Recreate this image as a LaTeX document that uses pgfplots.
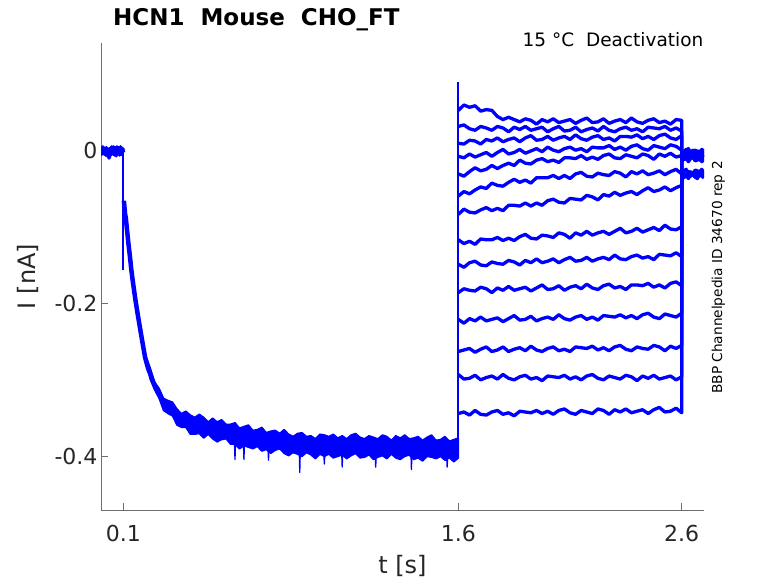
\documentclass[border=0pt]{standalone}
\usepackage{fontspec}
\setmainfont{DejaVu Sans}
\usepackage{pgfplots}
\usepackage{pgfplotstable}
\pgfplotsset{compat=1.18}
\definecolor{axgray}{RGB}{110,110,110}
\definecolor{txt}{RGB}{38,38,38}

\pgfplotstableread{
t T1 T2 T3 T4 T5 T6 T7 T8 T9 T10 T11 T12 T13 T14
1.600 0.052 0.031 0.009 -0.008 -0.031 -0.060 -0.084 -0.117 -0.149 -0.186 -0.221 -0.263 -0.293 -0.344
1.625 0.059 0.033 0.008 -0.010 -0.034 -0.054 -0.077 -0.122 -0.153 -0.181 -0.226 -0.261 -0.299 -0.342
1.650 0.056 0.028 0.013 -0.005 -0.028 -0.057 -0.081 -0.119 -0.147 -0.183 -0.220 -0.259 -0.298 -0.346
1.675 0.058 0.026 0.012 -0.009 -0.023 -0.052 -0.082 -0.123 -0.145 -0.184 -0.223 -0.264 -0.294 -0.340
1.700 0.051 0.031 0.008 -0.006 -0.027 -0.048 -0.078 -0.116 -0.150 -0.179 -0.218 -0.260 -0.300 -0.345
1.725 0.053 0.029 0.014 -0.003 -0.025 -0.050 -0.075 -0.117 -0.151 -0.181 -0.223 -0.257 -0.297 -0.346
1.750 0.052 0.026 0.012 -0.008 -0.020 -0.043 -0.079 -0.117 -0.146 -0.186 -0.221 -0.263 -0.295 -0.342
1.775 0.044 0.031 0.016 -0.003 -0.024 -0.046 -0.076 -0.114 -0.148 -0.180 -0.219 -0.261 -0.299 -0.340
1.800 0.040 0.029 0.011 0.001 -0.020 -0.047 -0.079 -0.118 -0.149 -0.183 -0.224 -0.257 -0.293 -0.345
1.825 0.043 0.024 0.014 -0.005 -0.017 -0.042 -0.072 -0.115 -0.144 -0.178 -0.220 -0.263 -0.298 -0.343
1.850 0.040 0.030 0.016 -0.003 -0.020 -0.038 -0.072 -0.118 -0.146 -0.183 -0.216 -0.260 -0.300 -0.347
1.875 0.037 0.027 0.011 0.001 -0.013 -0.042 -0.073 -0.113 -0.150 -0.181 -0.222 -0.258 -0.296 -0.341
1.900 0.041 0.031 0.016 -0.004 -0.017 -0.039 -0.069 -0.110 -0.144 -0.179 -0.221 -0.262 -0.294 -0.342
1.925 0.039 0.026 0.019 -0.001 -0.018 -0.043 -0.073 -0.115 -0.147 -0.184 -0.217 -0.256 -0.299 -0.343
1.950 0.034 0.028 0.013 0.002 -0.013 -0.036 -0.069 -0.116 -0.142 -0.180 -0.223 -0.261 -0.297 -0.340
1.975 0.040 0.030 0.014 -0.002 -0.011 -0.036 -0.072 -0.111 -0.147 -0.176 -0.220 -0.263 -0.301 -0.344
2.000 0.037 0.024 0.018 0.004 -0.015 -0.036 -0.066 -0.112 -0.145 -0.182 -0.218 -0.259 -0.295 -0.341
2.025 0.041 0.028 0.013 0.000 -0.013 -0.033 -0.064 -0.114 -0.142 -0.181 -0.221 -0.257 -0.296 -0.345
2.050 0.036 0.031 0.016 -0.002 -0.016 -0.037 -0.068 -0.108 -0.147 -0.177 -0.215 -0.262 -0.297 -0.340
2.075 0.038 0.025 0.018 0.002 -0.010 -0.033 -0.069 -0.110 -0.143 -0.183 -0.220 -0.260 -0.294 -0.338
2.100 0.040 0.026 0.014 0.004 -0.010 -0.037 -0.063 -0.115 -0.140 -0.179 -0.222 -0.263 -0.299 -0.343
2.125 0.035 0.030 0.020 0.000 -0.011 -0.031 -0.064 -0.108 -0.145 -0.177 -0.218 -0.257 -0.296 -0.345
2.150 0.039 0.024 0.015 0.002 -0.007 -0.029 -0.065 -0.111 -0.144 -0.181 -0.216 -0.258 -0.300 -0.340
2.175 0.042 0.027 0.013 -0.002 -0.012 -0.034 -0.059 -0.106 -0.140 -0.175 -0.221 -0.259 -0.295 -0.342
2.200 0.036 0.029 0.017 0.004 -0.009 -0.035 -0.061 -0.111 -0.145 -0.180 -0.218 -0.256 -0.293 -0.344
2.225 0.037 0.025 0.019 0.003 -0.012 -0.030 -0.065 -0.108 -0.142 -0.182 -0.222 -0.261 -0.298 -0.338
2.250 0.041 0.031 0.014 0.003 -0.007 -0.032 -0.058 -0.106 -0.140 -0.177 -0.216 -0.258 -0.300 -0.340
2.275 0.035 0.026 0.016 0.006 -0.005 -0.033 -0.060 -0.110 -0.143 -0.175 -0.217 -0.262 -0.295 -0.345
2.300 0.038 0.024 0.012 0.001 -0.010 -0.028 -0.055 -0.106 -0.137 -0.180 -0.218 -0.257 -0.297 -0.339
2.325 0.040 0.028 0.018 0.004 -0.011 -0.030 -0.059 -0.102 -0.142 -0.178 -0.215 -0.255 -0.299 -0.342
2.350 0.036 0.030 0.018 0.000 -0.006 -0.035 -0.056 -0.108 -0.143 -0.182 -0.219 -0.260 -0.294 -0.338
2.375 0.042 0.026 0.017 0.005 -0.008 -0.028 -0.054 -0.106 -0.139 -0.176 -0.216 -0.262 -0.296 -0.343
2.400 0.037 0.028 0.020 0.007 -0.010 -0.031 -0.058 -0.102 -0.137 -0.176 -0.220 -0.257 -0.301 -0.341
2.425 0.035 0.024 0.015 0.002 -0.005 -0.027 -0.053 -0.107 -0.141 -0.177 -0.215 -0.259 -0.295 -0.339
2.450 0.039 0.030 0.018 0.000 -0.007 -0.032 -0.049 -0.104 -0.139 -0.174 -0.213 -0.260 -0.298 -0.344
2.475 0.041 0.029 0.014 0.006 -0.012 -0.030 -0.054 -0.101 -0.143 -0.179 -0.218 -0.255 -0.294 -0.339
2.500 0.036 0.028 0.019 0.004 -0.005 -0.027 -0.052 -0.105 -0.136 -0.176 -0.220 -0.257 -0.299 -0.336
2.525 0.038 0.031 0.021 0.002 -0.008 -0.032 -0.048 -0.098 -0.137 -0.180 -0.214 -0.262 -0.297 -0.342
2.550 0.034 0.026 0.016 0.007 -0.004 -0.028 -0.053 -0.103 -0.138 -0.174 -0.216 -0.256 -0.295 -0.341
2.575 0.040 0.029 0.014 0.005 -0.009 -0.025 -0.049 -0.104 -0.134 -0.172 -0.218 -0.259 -0.300 -0.337
2.600 0.039 0.025 0.019 0.000 -0.007 -0.031 -0.046 -0.100 -0.139 -0.177 -0.213 -0.255 -0.296 -0.343
2.6005 -0.001 0.000 -0.004 -0.005 -0.008 -0.014 -0.006 -0.007 -0.010 -0.011 -0.031 -0.032 -0.030 -0.031
2.610 -0.005 -0.005 -0.006 -0.007 -0.011 -0.012 -0.002 -0.006 -0.007 -0.005 -0.027 -0.030 -0.031 -0.036
2.620 0.000 -0.007 -0.008 -0.012 -0.007 -0.010 0.001 -0.002 -0.005 -0.010 -0.025 -0.034 -0.032 -0.033
2.630 0.002 -0.002 -0.003 -0.006 -0.012 -0.015 -0.005 -0.008 -0.009 -0.012 -0.030 -0.028 -0.029 -0.037
2.640 -0.003 -0.004 -0.005 -0.009 -0.010 -0.011 -0.004 -0.005 -0.003 -0.008 -0.028 -0.029 -0.034 -0.032
2.650 -0.005 -0.006 -0.010 -0.005 -0.008 -0.008 0.000 -0.003 -0.008 -0.006 -0.032 -0.030 -0.031 -0.030
2.660 0.000 -0.001 -0.004 -0.010 -0.013 -0.014 -0.006 -0.007 -0.010 -0.011 -0.026 -0.027 -0.035 -0.035
2.670 -0.002 -0.003 -0.007 -0.008 -0.009 -0.013 -0.003 -0.001 -0.006 -0.009 -0.027 -0.032 -0.030 -0.037
2.680 -0.004 -0.008 -0.003 -0.006 -0.006 -0.009 -0.001 -0.006 -0.004 -0.013 -0.028 -0.029 -0.028 -0.032
2.690 0.001 -0.002 -0.008 -0.011 -0.012 -0.015 -0.005 -0.008 -0.009 -0.007 -0.025 -0.033 -0.033 -0.034
2.700 -0.001 -0.005 -0.006 -0.007 -0.011 -0.012 0.001 -0.004 -0.007 -0.008 -0.030 -0.028 -0.035 -0.036
}\traces

\begin{document}
\begin{tikzpicture}
\path[use as bounding box] (0,0) rectangle (778bp,583bp);
\begin{axis}[
  at={(101bp,73bp)}, anchor=south west,
  scale only axis, width=603bp, height=467bp,
  xmin=0, xmax=2.7, ymin=-0.47, ymax=0.14,
  axis lines=left,
  axis line style={-, draw=axgray, line width=0.9bp},
  tick align=inside, major tick length=7bp,
  tick style={draw=axgray, line width=0.9bp},
  xtick={0.1,1.6,2.6}, xticklabels={0.1,1.6,2.6},
  ytick={-0.4,-0.2,0}, yticklabels={-0.4,-0.2,{0\hspace{23bp}}},
  ticklabel style={font=\fontsize{22bp}{26bp}\selectfont, text=txt},
  xticklabel style={yshift=-12bp},
  xlabel={t [s]}, ylabel={I [nA]},
  label style={font=\fontsize{24bp}{28bp}\selectfont, text=txt},
  xlabel style={at={(axis description cs:0.5,-0.137)}, anchor=base},
  ylabel style={at={(axis description cs:-0.121,0.5)}, anchor=center},
  every axis plot/.append style={no markers, line join=round},
]
% holding segment before the step
\addplot[blue, line width=4bp] coordinates {(0.000,0.003) (0.004,-0.005) (0.008,0.004) (0.012,-0.003) (0.016,0.002) (0.020,-0.006) (0.024,0.003) (0.028,-0.007) (0.032,0.001) (0.036,-0.010) (0.040,0.002) (0.044,-0.006) (0.048,0.004) (0.052,-0.004) (0.056,0.004) (0.060,-0.006) (0.064,0.003) (0.068,-0.007) (0.072,0.004) (0.076,-0.003) (0.080,0.003) (0.084,-0.006) (0.088,0.004) (0.092,-0.005) (0.096,0.002) (0.100,-0.003)};
% capacitive spike at 0.1 s
\addplot[blue, line width=1.8bp] coordinates {(0.1,-0.002) (0.1,-0.157)};
% activation decay (core)
\addplot[blue, line width=4.5bp] coordinates {(0.1025,-0.066) (0.105,-0.074) (0.108,-0.084) (0.111,-0.088) (0.115,-0.100) (0.118,-0.108) (0.122,-0.120) (0.126,-0.130) (0.130,-0.140) (0.135,-0.154) (0.140,-0.166) (0.148,-0.183) (0.155,-0.197) (0.162,-0.210) (0.171,-0.226) (0.178,-0.238) (0.185,-0.250) (0.191,-0.260) (0.197,-0.270) (0.205,-0.279) (0.212,-0.286) (0.219,-0.291) (0.230,-0.300) (0.240,-0.307) (0.250,-0.313) (0.260,-0.319) (0.280,-0.329) (0.300,-0.337) (0.330,-0.345) (0.360,-0.351) (0.400,-0.357) (0.450,-0.361)};
% noise band of the overlapping sweeps
\addplot[blue, fill=blue, line width=1.5bp] coordinates {
(0.20,-0.268) (0.22,-0.284) (0.24,-0.303) (0.26,-0.311) (0.28,-0.324) (0.30,-0.327) (0.32,-0.329) (0.34,-0.338) (0.36,-0.344) (0.38,-0.341) (0.40,-0.346) (0.42,-0.349) (0.44,-0.345) (0.46,-0.349) (0.48,-0.355) (0.50,-0.350) (0.52,-0.355) (0.54,-0.352) (0.56,-0.358) (0.58,-0.358) (0.60,-0.356) (0.62,-0.363) (0.64,-0.361) (0.66,-0.359) (0.68,-0.366) (0.70,-0.365) (0.72,-0.362) (0.74,-0.369) (0.76,-0.367) (0.78,-0.366) (0.80,-0.370) (0.82,-0.365) (0.84,-0.371) (0.86,-0.374) (0.88,-0.370) (0.90,-0.369) (0.92,-0.374) (0.94,-0.373) (0.96,-0.377) (0.98,-0.371) (1.00,-0.372) (1.02,-0.374) (1.04,-0.371) (1.06,-0.376) (1.08,-0.373) (1.10,-0.377) (1.12,-0.372) (1.14,-0.370) (1.16,-0.375) (1.18,-0.377) (1.20,-0.373) (1.22,-0.375) (1.24,-0.377) (1.26,-0.372) (1.28,-0.374) (1.30,-0.379) (1.32,-0.373) (1.34,-0.376) (1.36,-0.372) (1.38,-0.377) (1.40,-0.376) (1.42,-0.374) (1.44,-0.379) (1.46,-0.375) (1.48,-0.372) (1.50,-0.379) (1.52,-0.378) (1.54,-0.374) (1.56,-0.380) (1.58,-0.378) (1.60,-0.376)
(1.60,-0.402) (1.58,-0.407) (1.56,-0.402) (1.54,-0.405) (1.52,-0.400) (1.50,-0.403) (1.48,-0.401) (1.46,-0.400) (1.44,-0.406) (1.42,-0.402) (1.40,-0.404) (1.38,-0.398) (1.36,-0.400) (1.34,-0.404) (1.32,-0.402) (1.30,-0.397) (1.28,-0.403) (1.26,-0.399) (1.24,-0.401) (1.22,-0.404) (1.20,-0.398) (1.18,-0.401) (1.16,-0.402) (1.14,-0.396) (1.12,-0.399) (1.10,-0.403) (1.08,-0.398) (1.06,-0.400) (1.04,-0.402) (1.02,-0.397) (1.00,-0.400) (0.98,-0.397) (0.96,-0.403) (0.94,-0.398) (0.92,-0.395) (0.90,-0.400) (0.88,-0.397) (0.86,-0.395) (0.84,-0.399) (0.82,-0.396) (0.80,-0.390) (0.78,-0.392) (0.76,-0.396) (0.74,-0.391) (0.72,-0.393) (0.70,-0.387) (0.68,-0.390) (0.66,-0.388) (0.64,-0.386) (0.62,-0.390) (0.60,-0.384) (0.58,-0.384) (0.56,-0.377) (0.54,-0.378) (0.52,-0.381) (0.50,-0.377) (0.48,-0.371) (0.46,-0.376) (0.44,-0.370) (0.42,-0.371) (0.40,-0.371) (0.38,-0.362) (0.36,-0.362) (0.34,-0.359) (0.32,-0.347) (0.30,-0.344) (0.28,-0.340) (0.26,-0.324) (0.24,-0.313) (0.22,-0.299) (0.20,-0.273)};
% single downward noise spikes
\addplot[blue, line width=1.3bp, unbounded coords=jump] coordinates {(0.598,-0.384) (0.600,-0.404) (0.602,-0.384) (0.61,nan) (0.638,-0.385) (0.640,-0.404) (0.642,-0.385) (0.65,nan) (0.748,-0.390) (0.750,-0.405) (0.752,-0.390) (0.76,nan) (0.888,-0.396) (0.890,-0.421) (0.892,-0.396) (0.90,nan) (0.998,-0.398) (1.000,-0.410) (1.002,-0.398) (1.01,nan) (1.078,-0.397) (1.080,-0.414) (1.082,-0.397) (1.09,nan) (1.228,-0.400) (1.230,-0.414) (1.232,-0.400) (1.24,nan) (1.388,-0.397) (1.390,-0.417) (1.392,-0.397) (1.40,nan) (1.548,-0.401) (1.550,-0.414) (1.552,-0.401)};
% capacitive spike at 1.6 s
\addplot[blue, line width=2.2bp] coordinates {(1.6,-0.392) (1.6,0.089)};
% deactivation sweeps
\pgfplotsinvokeforeach{1,...,14}{
  \addplot[blue, line width=3.3bp] table[x=t, y=T#1] {\traces};
}
\end{axis}
\node[anchor=base west, inner sep=0pt, text=black, font=\fontsize{23bp}{27bp}\selectfont\bfseries] at (113bp,557bp) {HCN1\ \ Mouse\ \ CHO\_FT};
\node[anchor=base east, inner sep=0pt, text=black, font=\fontsize{18.5bp}{22bp}\selectfont] at (703.5bp,536bp) {15 °C\ \ Deactivation};
\node[anchor=base, rotate=90, inner sep=0pt, text=black, font=\fontsize{13.7bp}{16bp}\selectfont] at (722bp,305.5bp) {BBP Channelpedia ID 34670 rep 2};
\end{tikzpicture}
\end{document}
